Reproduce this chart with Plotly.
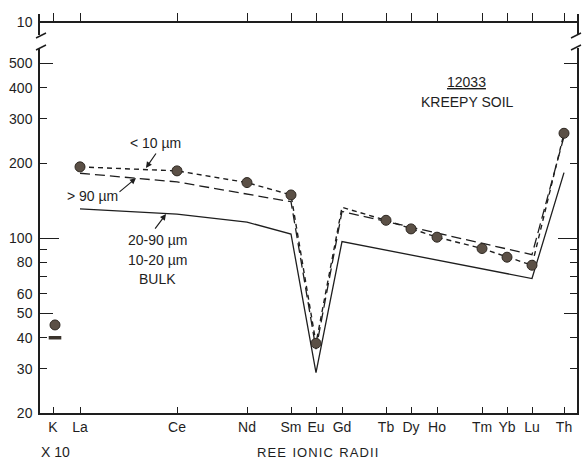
import math
import plotly.graph_objects as go

# ---------------- data ----------------
elements = ["K", "La", "Ce", "Nd", "Sm", "Eu", "Gd", "Tb", "Dy", "Ho", "Tm", "Yb", "Lu", "Th"]
# position of each element along the REE ionic-radii axis (arbitrary scale units)
x_scale = [13, 40, 137, 207, 251, 276, 302, 346, 371, 397, 442, 467, 492, 524]

# < 10 um fraction (dots + short dashes)
fine_el = ["La", "Ce", "Nd", "Sm", "Eu", "Gd", "Tb", "Dy", "Ho", "Tm", "Yb", "Lu", "Th"]
fine_val = [193, 186, 167, 149, 38, 133, 118, 109, 101, 91, 84, 78, 263]
fine_dot_el = ["La", "Ce", "Nd", "Sm", "Eu", "Tb", "Dy", "Ho", "Tm", "Yb", "Lu", "Th"]
fine_dot_val = [193, 186, 167, 149, 38, 118, 109, 101, 91, 84, 78, 263]

# > 90 um fraction (long dashes)
coarse_el = ["La", "Ce", "Sm", "Eu", "Gd", "Lu", "Th"]
coarse_val = [182, 168, 140, 36, 128, 86, 255]

# 20-90 um, 10-20 um, bulk (solid)
bulk_el = ["La", "Ce", "Nd", "Sm", "Eu", "Gd", "Lu", "Th"]
bulk_val = [131, 125, 116, 104, 29, 97, 69, 183]

# K (x 10)
k_fine = 45
k_other = 40

y_tickvals = [20, 30, 40, 50, 60, 70, 80, 90, 100, 200, 300, 400, 500]
y_ticktext = ["20", "30", "40", "50", "60", "", "80", "", "100", "200", "300", "400", "500"]

# ---------------- layout helpers ----------------
W, H = 582, 467
L, R, T, B = 40, 5, 14, 54
PW, PH = W - L - R, H - T - B


def px(x):
    return (x - L) / PW


def py(y):
    return (H - B - y) / PH


xpos = dict(zip(elements, x_scale))
FONT = "Liberation Sans, Arial, sans-serif"
INK = "#1e1e1e"
DOT = "#5b5046"

fig = go.Figure()

fig.add_trace(go.Scatter(
    x=[xpos[e] for e in bulk_el], y=bulk_val, mode="lines",
    line=dict(color=INK, width=1.3), hoverinfo="skip", showlegend=False))
fig.add_trace(go.Scatter(
    x=[xpos[e] for e in coarse_el], y=coarse_val, mode="lines",
    line=dict(color=INK, width=1.3, dash="10px,5px"), hoverinfo="skip", showlegend=False))
fig.add_trace(go.Scatter(
    x=[xpos[e] for e in fine_el], y=fine_val, mode="lines",
    line=dict(color=INK, width=1.4, dash="5px,4px"), hoverinfo="skip", showlegend=False))
fig.add_trace(go.Scatter(
    x=[xpos[e] for e in fine_dot_el] + [xpos["K"] + 2], y=fine_dot_val + [k_fine], mode="markers",
    marker=dict(color=DOT, size=10, line=dict(color="#2e2822", width=1)),
    hoverinfo="skip", showlegend=False))
fig.add_trace(go.Scatter(
    x=[xpos["K"] + 2], y=[k_other], mode="markers",
    marker=dict(symbol="line-ew", size=9, line=dict(color="#3a332c", width=3.5)),
    hoverinfo="skip", showlegend=False))
# empty traces so that the auxiliary axes get drawn
for xa, ya in (("x2", "y2"), ("x", "y3"), ("x", "y4")):
    fig.add_trace(go.Scatter(x=[None], y=[None], xaxis=xa, yaxis=ya, mode="lines",
                             hoverinfo="skip", showlegend=False))

axis_common = dict(showgrid=False, zeroline=False, linecolor=INK, tickcolor=INK,
                   automargin=False,
                   tickfont=dict(family=FONT, size=14, color=INK))

lo = math.log10(20)
hi = lo + (413 - 48) / 250.0
main_dom = [0, py(48)]

fig.update_layout(
    width=W, height=H,
    margin=dict(l=L, r=R, t=T, b=B, autoexpand=False),
    paper_bgcolor="white", plot_bgcolor="white",
    showlegend=False,
    xaxis=dict(range=[0, PW], showline=True, linewidth=1.5, mirror=False,
               ticks="inside", ticklen=6, tickwidth=1.2,
               tickvals=x_scale, ticktext=elements, **axis_common),
    yaxis=dict(type="log", range=[lo, hi], domain=main_dom, showline=True, linewidth=1.5,
               mirror="ticks", ticks="inside", ticklen=7, tickwidth=1.2,
               tickvals=y_tickvals, ticktext=y_ticktext, ticklabelstandoff=3, **axis_common),
    yaxis3=dict(type="log", range=[lo, hi], domain=main_dom, overlaying="y", anchor="x",
                showline=False, mirror="ticks", ticks="inside", ticklen=13, tickwidth=1.2,
                tickvals=[50, 500], showticklabels=False, **axis_common),
    yaxis4=dict(type="log", range=[lo, hi], domain=main_dom, overlaying="y", anchor="x",
                showline=False, mirror="ticks", ticks="inside", ticklen=19, tickwidth=1.2,
                tickvals=[100], showticklabels=False, **axis_common),
    xaxis2=dict(matches="x", anchor="free", position=py(22), side="top", showline=True,
                linewidth=1.5, ticks="outside", ticklen=8, tickwidth=1.2,
                tickvals=x_scale, showticklabels=False, **axis_common),
    yaxis2=dict(range=[0, 10 / ((35 - 22) / 21.0)], domain=[py(35), 1], anchor="x2",
                showline=True, linewidth=1.5, mirror=True, ticks="",
                tickvals=[10], ticktext=["10"], ticklabelstandoff=3, **axis_common),
)

# axis break marks
shapes = []
for x0 in (L - 4, W - R - 6):
    for yy in (38, 50):
        shapes.append(dict(type="line", xref="paper", yref="paper",
                           x0=px(x0), y0=py(yy), x1=px(x0 + 10), y1=py(yy - 5),
                           line=dict(color=INK, width=1.4)))
fig.update_layout(shapes=shapes)

anns = []


def text(x, y, s, size=14, **kw):
    anns.append(dict(xref="paper", yref="paper", x=px(x), y=py(y), text=s, showarrow=False,
                     font=dict(family=FONT, size=size, color=INK), xanchor="center",
                     yanchor="middle", **kw))


text(466, 82, "<u>12033</u>")
text(467, 102, "KREEPY SOIL")
text(155, 143, "&lt; 10 µm")
text(92, 196, "&gt; 90 µm")
text(157, 240, "20-90 µm")
text(157, 260, "10-20 µm")
text(157, 279, "BULK")
text(55, 452, "X 10")
text(317, 452, "R E E  I O N I C  R A D I I".replace("  ", "\u2002").replace(" ", "\u200a"), size=13)


def arrow(hx, hval, ax, ay):
    anns.append(dict(xref="x", yref="y", x=hx, y=math.log10(hval), text="", showarrow=True,
                     ax=ax, ay=ay, arrowhead=2, arrowsize=1, arrowwidth=1.2,
                     arrowcolor=INK))


arrow(106, 191, 11, -16)
arrow(96, 174, -18, 15)
arrow(126, 125, -12, 16)

fig.update_layout(annotations=anns)

fig.write_html("out.html", config={"displayModeBar": False},
               post_script="document.body.style.margin='0';")
